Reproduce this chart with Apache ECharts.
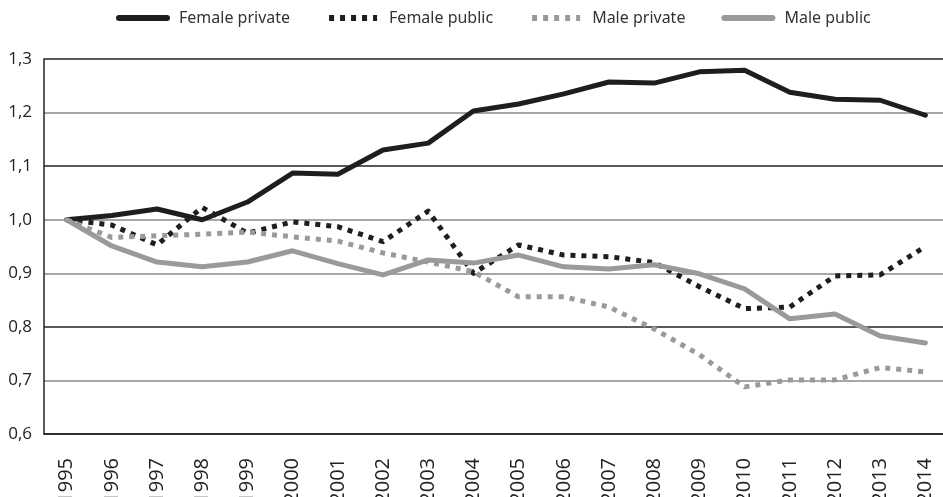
<!DOCTYPE html>
<html>
<head>
<meta charset="utf-8">
<script src="https://cdn.jsdelivr.net/npm/echarts@6/dist/echarts.min.js"></script>
<style>
html,body{margin:0;padding:0;background:#fff;}
#c{width:943px;height:497px;}
</style>
</head>
<body>
<div id="c"></div>
<script>
var years = ['1995','1996','1997','1998','1999','2000','2001','2002','2003','2004','2005','2006','2007','2008','2009','2010','2011','2012','2013','2014'];
var femalePrivate = [1.000,1.008,1.020,1.000,1.033,1.087,1.085,1.130,1.143,1.203,1.216,1.235,1.257,1.255,1.276,1.279,1.238,1.225,1.223,1.195];
var femalePublic  = [1.000,0.990,0.953,1.023,0.975,0.996,0.987,0.959,1.016,0.900,0.953,0.934,0.931,0.920,0.875,0.834,0.837,0.895,0.897,0.950];
var malePrivate   = [1.000,0.967,0.970,0.973,0.977,0.968,0.960,0.938,0.921,0.903,0.856,0.856,0.837,0.796,0.748,0.688,0.701,0.701,0.724,0.716];
var malePublic    = [1.000,0.951,0.921,0.912,0.921,0.942,0.918,0.897,0.925,0.919,0.934,0.912,0.908,0.916,0.899,0.871,0.815,0.824,0.783,0.770];
var seriesNames = ['Female private','Female public','Male private','Male public'];

var dark = '#1e1e1e', gray = '#9a9a9a';
var font = "'Open Sans',sans-serif";

var chart = echarts.init(document.getElementById('c'));
function mk(name, data, color, dotted) {
  return {
    name: name, type: 'line', data: data,
    symbol: 'none', smooth: false,
    lineStyle: { color: color, width: 5, type: dotted ? [5, 6] : 'solid', cap: dotted ? 'butt' : 'round', join: 'round' },
    itemStyle: { color: color },
    emphasis: { disabled: true }
  };
}
chart.setOption({
  animation: false,
  backgroundColor: '#fff',
  legend: {
    left: 111, top: 5, itemWidth: 48, itemHeight: 14, itemGap: 36,
    itemStyle: { opacity: 0 },
    lineStyle: { width: 6 },
    textStyle: { color: '#333', fontSize: 16, fontFamily: "'Noto Sans',sans-serif", padding: [0, 0, 0, 7] },
    data: seriesNames
  },
  grid: { left: 44, top: 59, width: 904, height: 375, containLabel: false, outerBoundsMode: 'none' },
  xAxis: {
    type: 'category', data: years, boundaryGap: true,
    axisLine: { lineStyle: { color: '#222', width: 1.5 } },
    axisTick: { show: false },
    axisLabel: { rotate: 90, margin: 24, color: '#222', fontSize: 20, fontFamily: font, interval: 0 }
  },
  yAxis: {
    type: 'value', min: 0.6, max: 1.3, interval: 0.1,
    axisLine: { show: true, lineStyle: { color: '#222', width: 1.5 } },
    axisTick: { show: false },
    axisLabel: { margin: 12, color: '#222', fontSize: 17, fontFamily: font,
      formatter: function (v) { return v.toFixed(1).replace('.', ','); } },
    splitLine: { show: true, lineStyle: { width: 1.5, color: ['#222', '#8a8a8a', '#222', '#8a8a8a', '#8a8a8a', '#222', '#8a8a8a', '#222'] } }
  },
  series: [
    mk(seriesNames[0], femalePrivate, dark, false),
    mk(seriesNames[1], femalePublic, dark, true),
    mk(seriesNames[2], malePrivate, gray, true),
    mk(seriesNames[3], malePublic, gray, false)
  ]
});
</script>
</body>
</html>
